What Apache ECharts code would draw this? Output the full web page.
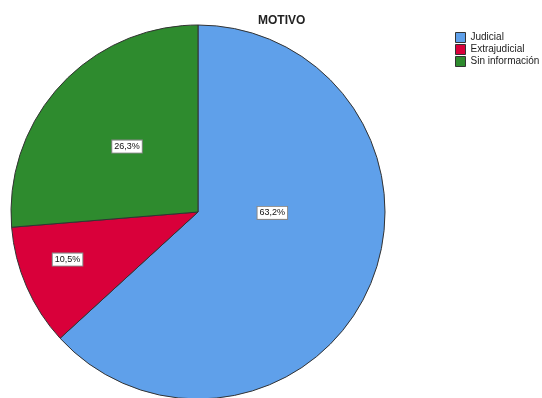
<!DOCTYPE html>
<html>
<head>
<meta charset="utf-8">
<style>
  html, body { margin: 0; padding: 0; background: #ffffff; }
  #chart { width: 542px; height: 398px; }
</style>
<script src="https://cdn.jsdelivr.net/npm/echarts@6/dist/echarts.min.js"></script>
</head>
<body>
<div id="chart"></div>
<script>
// Motivo: share of cases by reason
const categories = ['Judicial', 'Extrajudicial', 'Sin información'];
const percentages = [63.2, 10.5, 26.3];
const colors = ['#5fa0ea', '#d9003a', '#2e8b2e'];

// nudges of the value boxes away from the slice midpoints
const labelShift = [[-14, -38], [-42, 9], [0, 0]];

const chart = echarts.init(document.getElementById('chart'), null, { renderer: 'canvas' });

chart.setOption({
  animation: false,
  backgroundColor: '#ffffff',
  title: {
    text: 'MOTIVO',
    left: 253,
    top: 10,
    textStyle: { fontFamily: 'Liberation Sans, Arial, sans-serif', fontSize: 12, fontWeight: 'bold', color: '#222222' }
  },
  legend: {
    orient: 'vertical',
    left: 455,
    top: 32,
    padding: 0,
    itemWidth: 10,
    itemHeight: 10,
    itemGap: 1,
    icon: 'rect',
    data: categories,
    itemStyle: { borderColor: '#333333', borderWidth: 1 },
    textStyle: { fontFamily: 'Liberation Sans, Arial, sans-serif', fontSize: 10, color: '#222222' }
  },
  series: [{
    type: 'pie',
    center: [198, 212],
    radius: [0, 187],
    startAngle: 90,
    clockwise: true,
    silent: true,
    data: categories.map((name, i) => ({
      name: name,
      value: percentages[i],
      itemStyle: { color: colors[i] }
    })),
    itemStyle: { borderColor: '#333333', borderWidth: 1 },
    label: {
      show: true,
      position: 'inside',
      formatter: p => p.value.toFixed(1).replace('.', ',') + '%',
      fontFamily: 'Liberation Sans, Arial, sans-serif',
      fontSize: 9,
      color: '#111111',
      backgroundColor: '#ffffff',
      borderColor: '#888888',
      borderWidth: 1,
      padding: [2, 2, 1, 2]
    },
    labelLayout: p => ({ dx: labelShift[p.dataIndex][0], dy: labelShift[p.dataIndex][1] }),
    emphasis: { disabled: true }
  }]
});
</script>
</body>
</html>
